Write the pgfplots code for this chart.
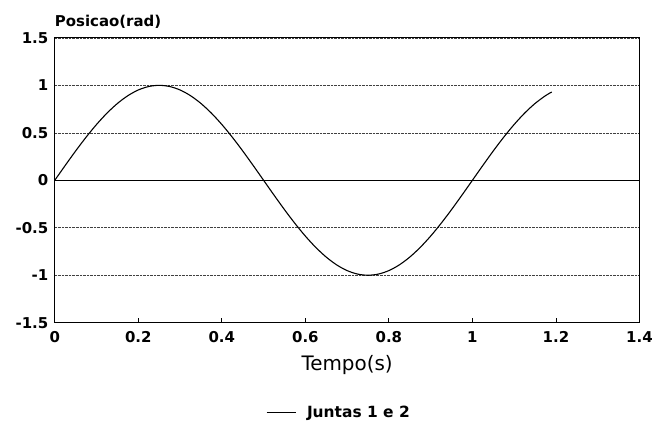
\documentclass[border=0pt]{standalone}
\usepackage{pgfplots}
\pgfplotsset{compat=1.18}
\usepackage{fontspec}
\setmainfont{DejaVu Sans}
\begin{document}
\begin{tikzpicture}
\begin{axis}[
  scale only axis,
  clip=false,
  width=587pt, height=286pt,
  xmin=0, xmax=1.4, ymin=-1.5, ymax=1.5,
  axis line style={line width=1.1pt},
  xtick={0,0.2,0.4,0.6,0.8,1,1.2,1.4},
  xticklabels={0,0.2,0.4,0.6,0.8,1,1.2,1.4},
  ytick={-1.5,-1,-0.5,0,0.5,1,1.5},
  yticklabels={-1.5,-1,-0.5,0,0.5,1,1.5},
  tick label style={font=\fontsize{15}{17}\selectfont\bfseries},
  xticklabel style={yshift=-5pt},
  yticklabel style={xshift=-3pt},
  xtick pos=bottom, ytick pos=left,
  tick align=inside,
  major tick length=5pt,
  ytick style={draw=none},
  xtick style={line width=0.8pt, black},
  ymajorgrids,
  grid style={densely dotted, black!75, line width=0.6pt},
  xlabel={Tempo(s)},
  xlabel style={font=\fontsize{20}{24}\selectfont, at={(axis description cs:0.5,-0.15)}, anchor=center},
  legend style={at={(axis description cs:0.486,-0.315)}, anchor=center, draw=none, font=\fontsize{15.5}{18}\selectfont\bfseries},
  legend image code/.code={\draw[#1] (0pt,0pt) -- (30pt,0pt); \path (38pt,0pt);},
  legend cell align=left,
]
\addplot[black, line width=0.8pt, forget plot] coordinates {(0,0) (1.4,0)};
\addplot[black, line width=1.1pt, smooth] coordinates {
(0,0) (0.025,0.1564) (0.05,0.3090) (0.075,0.4540) (0.1,0.5878) (0.125,0.7071)
(0.15,0.8090) (0.175,0.8910) (0.2,0.9511) (0.225,0.9877) (0.25,1) (0.275,0.9877)
(0.3,0.9511) (0.325,0.8910) (0.35,0.8090) (0.375,0.7071) (0.4,0.5878) (0.425,0.4540)
(0.45,0.3090) (0.475,0.1564) (0.5,0) (0.525,-0.1564) (0.55,-0.3090) (0.575,-0.4540)
(0.6,-0.5878) (0.625,-0.7071) (0.65,-0.8090) (0.675,-0.8910) (0.7,-0.9511) (0.725,-0.9877)
(0.75,-1) (0.775,-0.9877) (0.8,-0.9511) (0.825,-0.8910) (0.85,-0.8090) (0.875,-0.7071)
(0.9,-0.5878) (0.925,-0.4540) (0.95,-0.3090) (0.975,-0.1564) (1,0) (1.025,0.1564)
(1.05,0.3090) (1.075,0.4540) (1.1,0.5878) (1.125,0.7071) (1.15,0.8090) (1.175,0.8910) (1.19,0.9298)
};
\addlegendentry{Juntas 1 e 2}
\node[anchor=base west, inner sep=0pt, font=\fontsize{15}{17}\selectfont\bfseries] at ([yshift=11pt]rel axis cs:0,1) {Posicao(rad)};
\end{axis}
\path (current axis.south west) ++(-55pt,-102pt) rectangle ++(656pt,426pt);
\end{tikzpicture}
\end{document}
